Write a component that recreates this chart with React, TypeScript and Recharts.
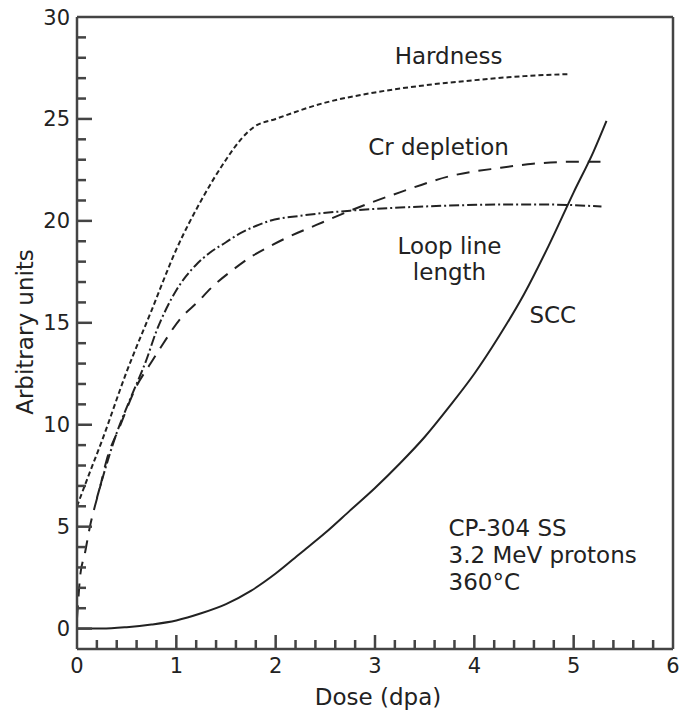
import { LineChart, Line, XAxis, YAxis, ReferenceLine, ReferenceDot } from 'recharts';

// values (dose in dpa, arbitrary units)
const hardnessDose = [0, 0.1, 0.25, 0.5, 0.75, 1, 1.25, 1.5, 1.65, 1.78, 2, 2.5, 3, 3.5, 4, 4.5, 4.95];
const hardnessValue = [6.0, 7.3, 9.2, 12.6, 15.6, 18.6, 21.0, 23.0, 24.0, 24.6, 25.0, 25.8, 26.3, 26.65, 26.9, 27.1, 27.2];

const crDose = [0, 0.01, 0.03, 0.08, 0.13, 0.18, 0.23, 0.3, 0.43, 0.6, 0.74, 0.87, 1.04, 1.21, 1.37, 1.57, 1.74, 1.94, 2.08, 2.41, 2.75, 3.25, 3.76, 4.26, 4.59, 5.0, 5.27];
const crValue = [0.5, 1.2, 2.5, 3.7, 5.0, 6.0, 6.9, 8.3, 9.9, 11.9, 13.0, 14.0, 15.2, 16.0, 16.8, 17.6, 18.2, 18.75, 19.1, 19.8, 20.5, 21.4, 22.2, 22.6, 22.8, 22.9, 22.9];

const loopDose = [0.2, 0.27, 0.4, 0.53, 0.7, 0.8, 0.9, 1.0, 1.1, 1.2, 1.34, 1.5, 1.61, 1.8, 1.94, 2.25, 2.75, 3.25, 3.75, 4.25, 4.75, 5.28];
const loopValue = [6.4, 7.6, 9.6, 11.2, 13.2, 14.6, 15.7, 16.6, 17.3, 17.85, 18.45, 18.95, 19.3, 19.75, 20.0, 20.25, 20.5, 20.65, 20.75, 20.8, 20.8, 20.7];

const sccDose = [0, 0.25, 0.5, 0.75, 1, 1.25, 1.5, 1.75, 2, 2.25, 2.5, 2.75, 3, 3.25, 3.5, 3.75, 4, 4.25, 4.5, 4.75, 5, 5.2, 5.33];
const sccValue = [0, 0, 0.07, 0.2, 0.4, 0.75, 1.2, 1.85, 2.7, 3.7, 4.7, 5.8, 6.9, 8.1, 9.4, 10.9, 12.5, 14.35, 16.4, 18.8, 21.4, 23.4, 24.9];

// every tick position; labels only on whole doses / multiples of 5
const xTicks = [0, 0.2, 0.4, 0.6, 0.8, 1, 1.2, 1.4, 1.6, 1.8, 2, 2.2, 2.4, 2.6, 2.8, 3, 3.2, 3.4, 3.6, 3.8, 4, 4.2, 4.4, 4.6, 4.8, 5, 5.2, 5.4, 5.6, 5.8, 6];
const yTicks = [0, 1, 2, 3, 4, 5, 6, 7, 8, 9, 10, 11, 12, 13, 14, 15, 16, 17, 18, 19, 20, 21, 22, 23, 24, 25, 26, 27, 28, 29, 30];

const zip = (xs: number[], ys: number[]) => xs.map((x, i) => ({ x, y: ys[i] }));

const hardness = zip(hardnessDose, hardnessValue);
const crDepletion = zip(crDose, crValue);
const loopLength = zip(loopDose, loopValue);
const scc = zip(sccDose, sccValue);

const INK = '#222';
const AXIS = '#444';

const XTick = (props: any) => {
  const x = Number(props.x);
  const y = Number(props.y);
  const v = props.payload.value;
  const major = Math.abs(v - Math.round(v)) < 1e-6;
  const len = major ? 14 : 9;
  const edge = v === 0 || v === 6;
  return (
    <g>
      {!edge && <rect x={x - 1.25} y={y - len} width={2.5} height={len} fill={AXIS} />}
      {major && (
        <text x={x} y={y + 24} textAnchor="middle" fontSize={21} fill={INK}>
          {v}
        </text>
      )}
    </g>
  );
};

const YTick = (props: any) => {
  const x = Number(props.x);
  const y = Number(props.y);
  const v = props.payload.value;
  const major = v % 5 === 0;
  const len = major ? 15 : 9;
  return (
    <g>
      {v !== 30 && <rect x={x} y={y - 1.25} width={len} height={2.5} fill={AXIS} />}
      {major && (
        <text x={x - 7} y={y + 7.5} textAnchor="end" fontSize={21} fill={INK}>
          {v}
        </text>
      )}
    </g>
  );
};

const note = (value: string, position: 'center' | 'right') => ({
  value,
  position,
  offset: 0,
  fontSize: 23,
  fill: INK,
});

export default function App() {
  return (
    <div style={{ position: 'absolute', left: 0, top: 0, width: 680, height: 711, fontFamily: '"DejaVu Sans", sans-serif' }}>
      <LineChart width={680} height={711} margin={{ top: 17, right: 7, bottom: 0, left: 0 }}>
        <XAxis
          type="number"
          dataKey="x"
          domain={[0, 6]}
          ticks={xTicks}
          interval={0}
          height={62}
          tickSize={0}
          tickMargin={0}
          tickLine={false}
          tick={<XTick />}
          axisLine={{ stroke: AXIS, strokeWidth: 2.5 }}
        />
        <YAxis
          type="number"
          dataKey="y"
          domain={[-1, 30]}
          ticks={yTicks}
          interval={0}
          width={77}
          tickSize={0}
          tickMargin={0}
          tickLine={false}
          tick={<YTick />}
          axisLine={{ stroke: AXIS, strokeWidth: 2.5 }}
        />

        <ReferenceLine segment={[{ x: 0, y: 30 }, { x: 6, y: 30 }]} stroke={AXIS} strokeWidth={2.5} ifOverflow="visible" />
        <ReferenceLine segment={[{ x: 6, y: -1 }, { x: 6, y: 30 }]} stroke={AXIS} strokeWidth={2.5} ifOverflow="visible" />

        <Line data={hardness} dataKey="y" type="monotone" stroke={INK} strokeWidth={2} strokeDasharray="5 3" dot={false} isAnimationActive={false} />
        <Line data={crDepletion} dataKey="y" type="monotone" stroke={INK} strokeWidth={2} strokeDasharray="13 9" dot={false} isAnimationActive={false} />
        <Line data={loopLength} dataKey="y" type="monotone" stroke={INK} strokeWidth={2} strokeDasharray="10 3 2 3" dot={false} isAnimationActive={false} />
        <Line data={scc} dataKey="y" type="monotone" stroke={INK} strokeWidth={2} dot={false} isAnimationActive={false} />

        <ReferenceDot x={3.74} y={28.1} r={0} stroke="none" fill="none" label={note('Hardness', 'center')} />
        <ReferenceDot x={3.64} y={23.65} r={0} stroke="none" fill="none" label={note('Cr depletion', 'center')} />
        <ReferenceDot x={3.75} y={18.8} r={0} stroke="none" fill="none" label={note('Loop line', 'center')} />
        <ReferenceDot x={3.75} y={17.5} r={0} stroke="none" fill="none" label={note('length', 'center')} />
        <ReferenceDot x={4.79} y={15.4} r={0} stroke="none" fill="none" label={note('SCC', 'center')} />
        <ReferenceDot x={3.74} y={4.93} r={0} stroke="none" fill="none" label={note('CP-304 SS', 'right')} />
        <ReferenceDot x={3.74} y={3.6} r={0} stroke="none" fill="none" label={note('3.2 MeV protons', 'right')} />
        <ReferenceDot x={3.74} y={2.28} r={0} stroke="none" fill="none" label={note('360°C', 'right')} />
      </LineChart>
      <svg width={680} height={711} style={{ position: 'absolute', left: 0, top: 0, pointerEvents: 'none' }}>
        <text x={378} y={705} textAnchor="middle" fontSize={23} fill={INK}>
          Dose (dpa)
        </text>
        <text transform="translate(33,332) rotate(-90)" textAnchor="middle" fontSize={23} fill={INK}>
          Arbitrary units
        </text>
      </svg>
    </div>
  );
}
